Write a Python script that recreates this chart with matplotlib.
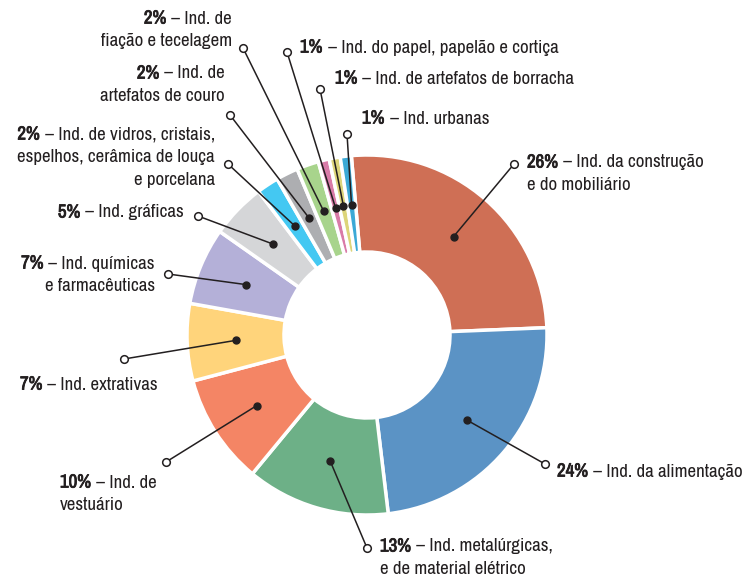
import numpy as np
import matplotlib.pyplot as plt
import matplotlib.patheffects as pe
from matplotlib import font_manager

# pick a narrow face if one is installed
fam, fs = "Roboto", 12.5
for f in font_manager.fontManager.ttflist:
    if "Narrow" in f.name or "Condensed" in f.name:
        fam, fs = f.name, 13.6
        break
has_bold = any(f.name == fam and f.weight in ("bold", 700, "semibold", 600)
               for f in font_manager.fontManager.ttflist)
plt.rcParams['font.family'] = [fam, 'DejaVu Sans']

# data, clockwise from the top
pcts = [26, 24, 13, 10, 7, 7, 5, 2, 2, 2, 1, 1, 1]
names = [
    "Ind. da construção\ne do mobiliário",
    "Ind. da alimentação",
    "Ind. metalúrgicas,\ne de material elétrico",
    "Ind. de\nvestuário",
    "Ind. extrativas",
    "Ind. químicas\ne farmacêuticas",
    "Ind. gráficas",
    "Ind. de vidros, cristais,\nespelhos, cerâmica de louça\ne porcelana",
    "Ind. de\nartefatos de couro",
    "Ind. de\nfiação e tecelagem",
    "Ind. do papel, papelão e cortiça",
    "Ind. de artefatos de borracha",
    "Ind. urbanas",
]
colors = ["#CF6F55", "#5B93C5", "#6DB087", "#F48565", "#FFD47B", "#B4B0D8",
          "#D5D6D8", "#44C8F2", "#ADAEB1", "#A8D48C", "#D97BA8", "#DDD57A",
          "#3BA9D6"]

# label layout in pixel coords: open circle (x, y), text (x, first line mid y, ha)
H = 576
circ = [(514, 164), (545, 464), (367, 548), (166, 462), (124, 359),
        (168, 274), (198, 216), (228, 164), (230, 115), (243, 48),
        (287, 52), (320, 89), (347, 134)]
txt = [(527, 161, "left"), (557, 470, "left"), (380, 545, "left"),
       (60, 481, "left"), (20, 383, "left"), (155, 262, "right"),
       (184, 211, "right"), (215, 133, "right"), (225, 72, "right"),
       (232, 17, "right"), (300, 46, "left"), (335, 77, "left"),
       (362, 117, "left")]

fig = plt.figure(figsize=(7.49, 5.76), dpi=100)
ax = fig.add_axes([0, 0, 1, 1])

cx, cy, R = 367, H - 335, 180
wedges, _ = ax.pie(pcts, colors=colors, startangle=95, counterclock=False,
                   center=(cx, cy), radius=R,
                   wedgeprops=dict(width=97, edgecolor="white", linewidth=2.5))
ax.set_xlim(0, 749)
ax.set_ylim(0, H)
ax.set_aspect("equal")
ax.axis("off")

ink = "#231F20"
r_dot = R - 49
rend = fig.canvas.get_renderer()
lead = 22.5
bkw = dict(fontweight="bold")
if not has_bold:
    # fake the bold weight with a thin outline
    bkw["path_effects"] = [pe.withStroke(linewidth=0.6, foreground=ink)]

for w, p, name, (ox, oy), (tx, ty, ha) in zip(wedges, pcts, names, circ, txt):
    mid = np.deg2rad((w.theta1 + w.theta2) / 2)
    dx, dy = cx + r_dot * np.cos(mid), cy + r_dot * np.sin(mid)
    ax.plot([dx, ox], [dy, H - oy], color=ink, lw=1.1, zorder=3)
    ax.plot(dx, dy, "o", ms=5, color=ink, zorder=4)
    ax.plot(ox, H - oy, "o", ms=5.5, mfc="white", mec=ink, mew=1.1, zorder=4)

    lines = name.split("\n")
    base = H - (ty + 6.5)
    kw = dict(va="baseline", fontsize=fs, color=ink)
    bold = f"{p}%"
    rest = " – " + lines[0]
    if ha == "left":
        b = ax.text(tx, base, bold, ha="left", **bkw, **kw)
        bw = b.get_window_extent(rend).width + (0 if has_bold else 1)
        ax.text(tx + bw, base, rest, ha="left", **kw)
    else:
        r = ax.text(tx, base, rest, ha="right", **kw)
        rw = r.get_window_extent(rend).width + (0 if has_bold else 1)
        ax.text(tx - rw, base, bold, ha="right", **bkw, **kw)
    for i, ln in enumerate(lines[1:], 1):
        ax.text(tx, base - i * lead, ln, ha=ha, **kw)

fig.savefig("out.png", dpi=100)
